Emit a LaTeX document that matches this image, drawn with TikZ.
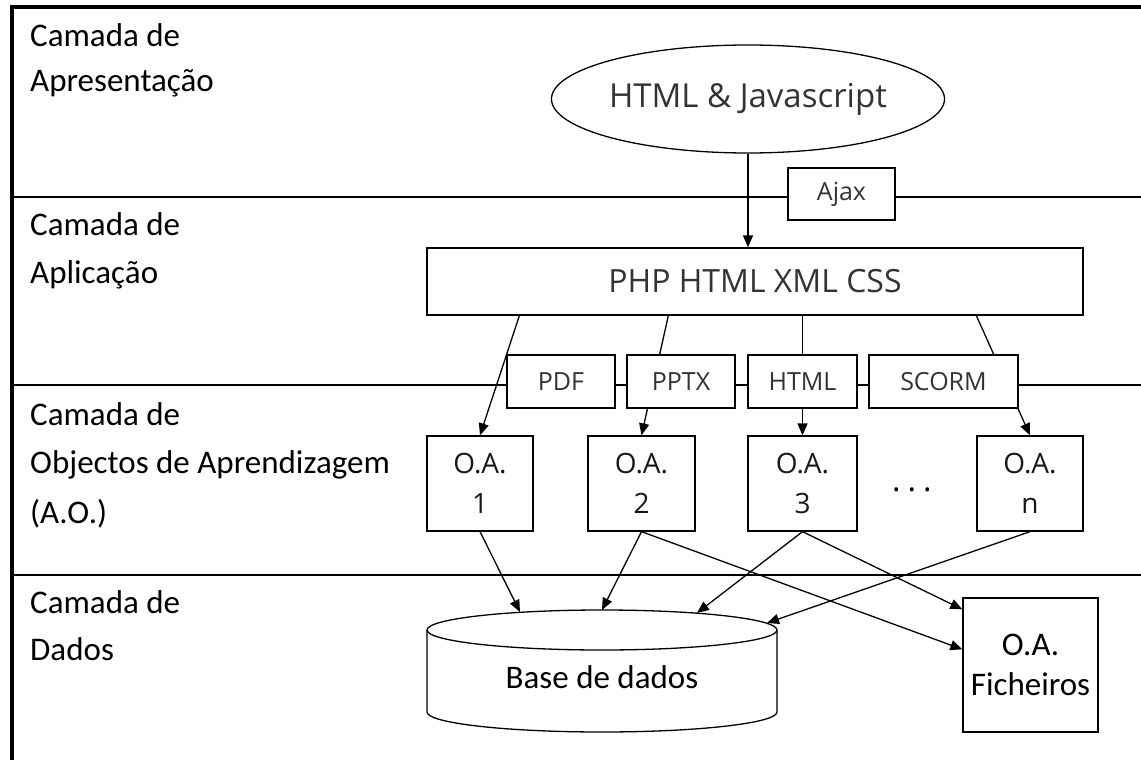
\documentclass[tikz,border=0pt]{standalone}
\usepackage{fontspec}
\setmainfont{Carlito}
\newfontfamily\uifont{Open Sans}
\usetikzlibrary{shapes.geometric,arrows.meta,calc}

\begin{document}
\begin{tikzpicture}[x=1pt,y=-1pt,
  frame/.style={line width=3.5pt},
  divider/.style={line width=1.3pt},
  layerlabel/.style={anchor=base west,inner sep=0pt,font=\fontsize{33}{38}\selectfont},
  box/.style={draw,line width=1.3pt,fill=white,inner sep=0pt},
  tag/.style={box,minimum height=53pt,text=black!80,font=\uifont\fontsize{25}{28}\selectfont},
  oabox/.style={box,minimum width=107pt,minimum height=95pt,align=center,text=black!90,
    font=\uifont\fontsize{28}{40}\selectfont},
  plain/.style={inner sep=0pt},
  conn/.style={line width=1.3pt},
  arr/.style={conn,-{Triangle[length=12pt,width=10pt]}},
]
\useasboundingbox (0,0) rectangle (1141,760);

% layer dividers and outer frame
\draw[divider] (12,197) -- (1141,197);
\draw[divider] (12,385) -- (1141,385);
\draw[divider] (12,575) -- (1141,575);
\draw[frame] (12,760) -- (12,7) -- (1141,7);

% layer names
\node[layerlabel] (l1a) at (30,47) {Camada de};
\node[layerlabel] (l1b) at (30,92) {Apresentação};
\node[layerlabel] (l2a) at (30,235) {Camada de};
\node[layerlabel] (l2b) at (30,283) {Aplicação};
\node[layerlabel] (l3a) at (30,425) {Camada de};
\node[layerlabel] (l3b) at (30,473) {Objectos de Aprendizagem};
\node[layerlabel] (l3c) at (30,523) {(A.O.)};
\node[layerlabel] (l4a) at (30,613) {Camada de};
\node[layerlabel] (l4b) at (30,660) {Dados};

% presentation and application
\node[draw,ellipse,line width=1.3pt,inner sep=0pt,minimum width=350pt,minimum height=108pt,
  text=black!80,font=\uifont\fontsize{33}{36}\selectfont] (js) at (748,99) {HTML \& Javascript};
\node[tag,minimum width=107pt,minimum height=52pt] (ajax) at (841.5,194) {Ajax};
\node[box,minimum width=656pt,minimum height=67pt,text=black!80,
  font=\uifont\fontsize{32}{38}\selectfont] (php) at (755,281.5) {PHP HTML XML CSS};
\draw[arr] (js.south) -- (js.south |- php.north);

% learning objects
\node[oabox,minimum width=106pt] (oa1) at (480,483.5) {O.A.\\1};
\node[oabox] (oa2) at (641.5,483.5) {O.A.\\2};
\node[oabox,minimum width=109pt] (oa3) at (802.5,483.5) {O.A.\\3};
\node[oabox,minimum width=106pt] (oan) at (1030,483.5) {O.A.\\n};
\node[plain,anchor=base,text=black,font=\uifont\fontsize{32}{34}\selectfont] (dots) at (912,491)
  {.\hspace{7pt}.\hspace{7pt}.};

\draw[arr] ($(php.south west)+(93,0)$) -- (oa1.north);
\draw[arr] ($(php.south west)+(242,0)$) -- (oa2.north);
\draw[arr] (oa3.north |- php.south) -- (oa3.north);
\draw[arr] ($(php.south west)+(550,0)$) -- (oan.north);

% export formats
\node[tag,minimum width=108pt] (pdf) at (561,381.5) {PDF};
\node[tag,minimum width=108pt] (pptx) at (681,381.5) {PPTX};
\node[tag,minimum width=109pt] (html) at (802.5,381.5) {HTML};
\node[tag,minimum width=149pt] (scorm) at (943.5,381.5) {SCORM};

% data layer: database cylinder
\draw[line width=1.3pt,fill=white] (427,630) -- (427,712) arc[start angle=180,end angle=360,x radius=175,y radius=-20]
  -- (777,630);
\node[draw,ellipse,line width=1.3pt,fill=white,inner sep=0pt,minimum width=350pt,minimum height=40pt] (dbtop) at (602,630) {};
\node[plain,font=\fontsize{33}{36}\selectfont] (db) at (602,677) {Base de dados};
\coordinate (db1) at (520,612);
\coordinate (db2) at (602,610);
\coordinate (db3) at (697,613);
\coordinate (db4) at (767,623);

% file store
\node[box,minimum width=135pt,minimum height=134pt] (files) at (1030.5,665) {};
\node[plain,align=center,anchor=base,font=\fontsize{33}{40}\selectfont] (filestext) at (1030.5,695) {O.A.\\Ficheiros};
\coordinate (f1) at ($(files.north west)+(0,12)$);
\coordinate (f2) at ($(files.north west)+(0,52)$);

\draw[arr] (oa1.south) -- (db1);
\draw[arr] (oa2.south) -- (db2);
\draw[arr] (oa2.south) -- (f2);
\draw[arr] (oa3.south) -- (db3);
\draw[arr] (oa3.south) -- (f1);
\draw[arr] (oan.south) -- (db4);
\end{tikzpicture}
\end{document}
